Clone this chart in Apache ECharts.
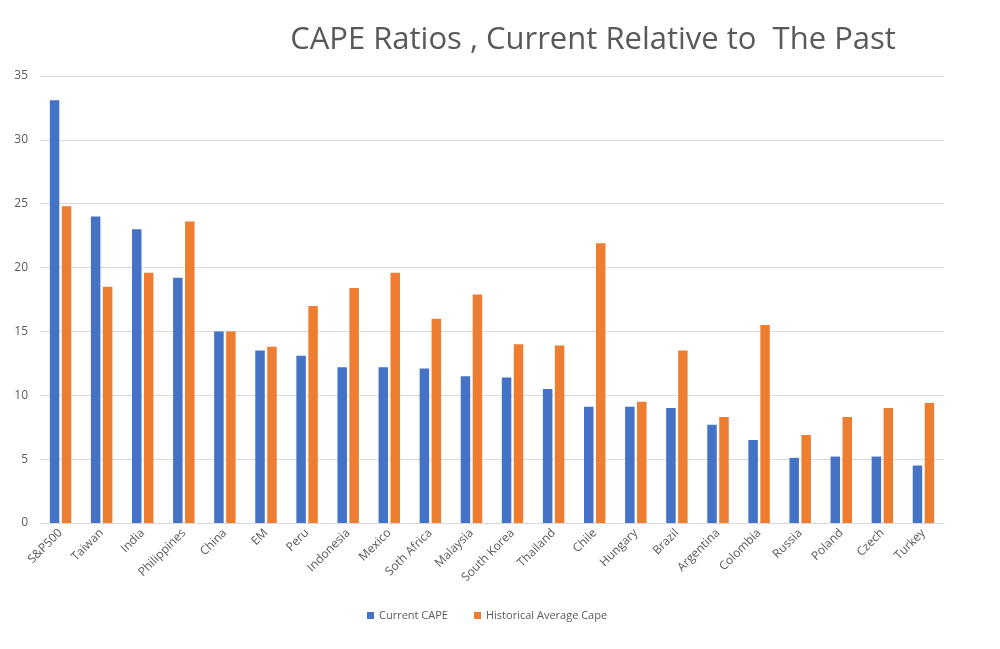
<!DOCTYPE html>
<html>
<head>
<meta charset="utf-8">
<script src="https://cdn.jsdelivr.net/npm/echarts@6/dist/echarts.min.js"></script>
<style>html,body{margin:0;padding:0;background:#fff;}#c{width:1000px;height:649px;}</style>
</head>
<body>
<div id="c"></div>
<script>
const categories = ['S&P500','Taiwan','India','Philippines','China','EM','Peru','Indonesia','Mexico','Soth Africa','Malaysia','South Korea','Thailand','Chile','Hungary','Brazil','Argentina','Colombia','Russia','Poland','Czech','Turkey'];
const currentCape = [33.1,24.0,23.0,19.2,15.0,13.5,13.1,12.2,12.2,12.1,11.5,11.4,10.5,9.1,9.1,9.0,7.7,6.5,5.1,5.2,5.2,4.5];
const historicalCape = [24.8,18.5,19.6,23.6,15.0,13.8,17.0,18.4,19.6,16.0,17.9,14.0,13.9,21.9,9.5,13.5,8.3,15.5,6.9,8.3,9.0,9.4];
const yTicks = {min:0, max:35, interval:5};

const chart = echarts.init(document.getElementById('c'));
chart.setOption({
  backgroundColor:'#fff',
  animation:false,
  title:{
    text:'CAPE Ratios , Current Relative to  The Past',
    left:588, top:20, textAlign:'center',
    textStyle:{fontFamily:'Open Sans', fontSize:31, fontWeight:'normal', color:'#595959'}
  },
  legend:{
    left:362, top:605, itemWidth:7, itemHeight:7, itemGap:26, icon:'rect',
    textStyle:{fontFamily:'Open Sans', fontSize:11, color:'#595959'},
    data:['Current CAPE','Historical Average Cape']
  },
  grid:{left:40, right:56, top:76, bottom:126, containLabel:false},
  xAxis:{
    type:'category', data:categories,
    axisLine:{lineStyle:{color:'#d9d9d9'}},
    axisTick:{show:false},
    axisLabel:{rotate:45, interval:0, fontFamily:'Open Sans', fontSize:12, color:'#595959', margin:8}
  },
  yAxis:{
    type:'value', min:yTicks.min, max:yTicks.max, interval:yTicks.interval,
    axisLine:{show:false}, axisTick:{show:false},
    axisLabel:{fontFamily:'Open Sans', fontSize:12, color:'#595959', margin:12},
    splitLine:{lineStyle:{color:'#d9d9d9'}}
  },
  series:[
    {name:'Current CAPE', type:'bar', data:currentCape, barWidth:9.5, barGap:'26%', itemStyle:{color:'#4472C4'}},
    {name:'Historical Average Cape', type:'bar', data:historicalCape, barWidth:9.5, barGap:'26%', itemStyle:{color:'#ED7D31'}}
  ]
});
</script>
</body>
</html>
